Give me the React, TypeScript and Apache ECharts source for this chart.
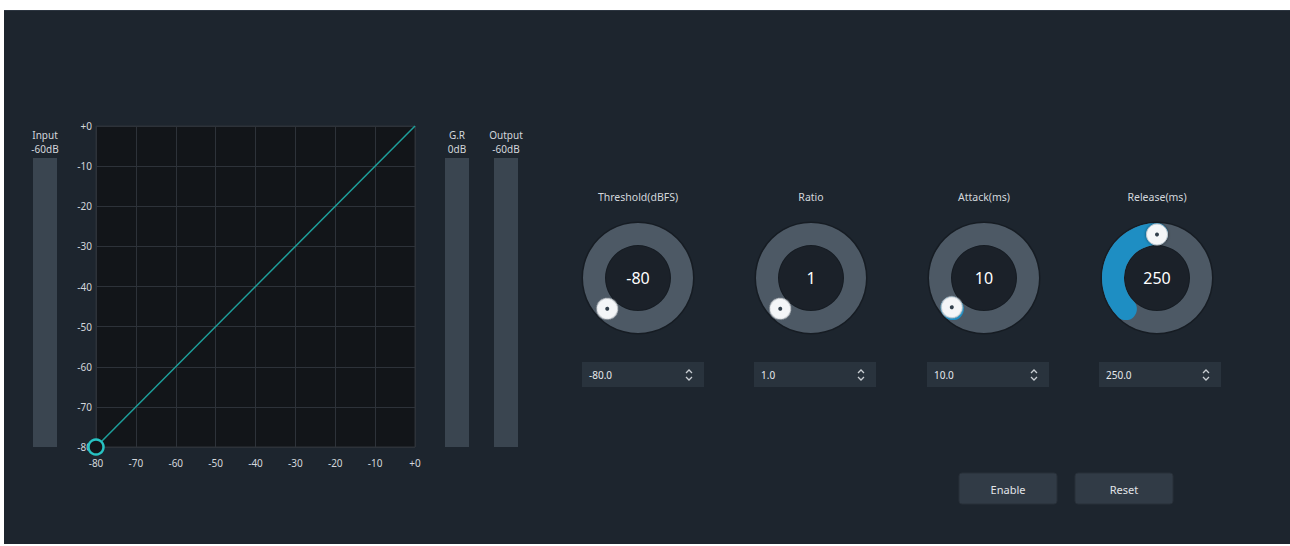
import React, { useEffect, useRef } from 'react';
import * as echarts from 'echarts';

// ---- data ----
const axisMin = -80;
const axisMax = 0;
const axisStep = 10;
const curveIn = [-80, 0];
const curveOut = [-80, 0];
const thresholdPoint = [-80, -80];

const meterNames = ['Input', 'G.R', 'Output'];
const meterReadouts = ['-60dB', '0dB', '-60dB'];

const knobNames = ['Threshold(dBFS)', 'Ratio', 'Attack(ms)', 'Release(ms)'];
const knobValues = [-80, 1, 10, 250];
const knobMin = [-80, 1, 0, 0];
const knobMax = [0, 20, 1000, 500];

const buttonLabels = ['Enable', 'Reset'];

// ---- layout / style ----
const FONT = '"Noto Sans", sans-serif';
const BG = '#1d252e';
const TXT = '#d3d7dc';
const knobX = [638, 811, 984, 1157];
const knobY = 278;
const meterX = [33, 445, 494];
const boxX = [582, 754, 927, 1099];
const buttonX = [959, 1075];

const fmtTick = (v: number) => (v === 0 ? '+0' : String(v));

export default function App() {
  const ref = useRef<HTMLDivElement>(null);
  useEffect(() => {
    if (!ref.current) return;
    const chart = echarts.init(ref.current, undefined, { renderer: 'svg' });

    const graphics: any[] = [
      { type: 'rect', z: -20, shape: { x: 4, y: 10, width: 1286, height: 534 }, style: { fill: BG } },
      { type: 'line', z: -19, shape: { x1: 4, y1: 10.5, x2: 1290, y2: 10.5 }, style: { stroke: '#2c3540', lineWidth: 1 } },
    ];

    meterNames.forEach((n, i) => {
      const x = meterX[i];
      graphics.push({ type: 'rect', z: 1, shape: { x, y: 158, width: 24, height: 289 }, style: { fill: '#3a4550' } });
      graphics.push({ type: 'text', z: 1, x: x + 12, y: 135, style: { text: n, fill: TXT, font: `10px ${FONT}`, align: 'center', verticalAlign: 'middle' } });
      graphics.push({ type: 'text', z: 1, x: x + 12, y: 149, style: { text: meterReadouts[i], fill: TXT, font: `10px ${FONT}`, align: 'center', verticalAlign: 'middle' } });
    });

    knobNames.forEach((n, i) => {
      const cx = knobX[i];
      graphics.push({ type: 'circle', z: 1, shape: { cx, cy: knobY, r: 56.5 }, style: { fill: '#161c23' } });
      graphics.push({ type: 'ring', z: 1, shape: { cx, cy: knobY, r: 55, r0: 33 }, style: { fill: '#4d5965' } });
      graphics.push({ type: 'circle', z: 1, shape: { cx, cy: knobY, r: 32 }, style: { fill: '#1b2129' } });
      const bx = boxX[i];
      graphics.push({ type: 'rect', z: 1, shape: { x: bx, y: 362, width: 122, height: 25 }, style: { fill: '#29333d' } });
      graphics.push({ type: 'text', z: 2, x: bx + 7, y: 375, style: { text: knobValues[i].toFixed(1), fill: '#e6e9ec', font: `10px ${FONT}`, verticalAlign: 'middle' } });
      graphics.push({ type: 'polyline', z: 2, shape: { points: [[bx + 104, 373], [bx + 107, 370], [bx + 110, 373]] }, style: { stroke: '#c9ced3', lineWidth: 1.3, fill: 'none' } });
      graphics.push({ type: 'polyline', z: 2, shape: { points: [[bx + 104, 377], [bx + 107, 380], [bx + 110, 377]] }, style: { stroke: '#c9ced3', lineWidth: 1.3, fill: 'none' } });
    });

    buttonLabels.forEach((b, i) => {
      const x = buttonX[i];
      graphics.push({ type: 'rect', z: 1, shape: { x, y: 473, width: 98, height: 31, r: 3 }, style: { fill: '#313b46', stroke: '#283039', lineWidth: 1 } });
      graphics.push({ type: 'text', z: 2, x: x + 49, y: 489, style: { text: b, fill: '#e1e4e8', font: `11px ${FONT}`, align: 'center', verticalAlign: 'middle' } });
    });

    const knobSeries: any[] = [];
    knobNames.forEach((n, i) => {
      const common = {
        type: 'gauge',
        center: [knobX[i], knobY],
        radius: 55,
        startAngle: 225,
        endAngle: -45,
        min: knobMin[i],
        max: knobMax[i],
        splitNumber: 1,
        axisTick: { show: false },
        splitLine: { show: false },
        axisLabel: { show: false },
        anchor: { show: false },
      };
      // arc + labels
      knobSeries.push({
        ...common,
        z: 5,
        axisLine: { show: false, lineStyle: { width: 22 } },
        progress: { show: knobValues[i] > knobMin[i], width: 22, roundCap: true, itemStyle: { color: '#1e8ec3' } },
        pointer: { show: false },
        title: { offsetCenter: [0, -81], color: TXT, fontSize: 10.5, fontFamily: FONT },
        detail: { offsetCenter: [0, 0], color: '#ffffff', fontSize: 16, fontWeight: 'normal', fontFamily: FONT, formatter: (v: number) => String(v) },
        data: [{ value: knobValues[i], name: n }],
      });
      // white handle
      knobSeries.push({
        ...common,
        z: 6,
        axisLine: { show: false },
        progress: { show: false },
        pointer: {
          icon: 'circle', width: 21, length: 21, offsetCenter: [0, -33],
          itemStyle: { color: '#f4f6f8', borderColor: '#c4c9ce', borderWidth: 1, shadowBlur: 3, shadowColor: 'rgba(0,0,0,0.5)' },
        },
        title: { show: false },
        detail: { show: false },
        data: [{ value: knobValues[i], name: n + ' handle' }],
      });
      // handle centre dot
      knobSeries.push({
        ...common,
        z: 7,
        axisLine: { show: false },
        progress: { show: false },
        pointer: { icon: 'circle', width: 4, length: 4, offsetCenter: [0, -41.5], itemStyle: { color: '#33404c' } },
        title: { show: false },
        detail: { show: false },
        data: [{ value: knobValues[i], name: n + ' dot' }],
      });
    });

    const axisCommon = {
      type: 'value',
      min: axisMin,
      max: axisMax,
      interval: axisStep,
      axisLine: { show: false },
      axisTick: { show: false },
      splitLine: { show: true, lineStyle: { color: '#2d3239', width: 1 } },
    };

    chart.setOption({
      animation: false,
      backgroundColor: '#ffffff',
      grid: { left: 96, top: 126, width: 319, height: 321, show: true, backgroundColor: '#121519', borderColor: '#2d3239', borderWidth: 1, z: 0 },
      xAxis: { ...axisCommon, axisLabel: { color: TXT, fontSize: 10, fontFamily: FONT, margin: 11, formatter: fmtTick } },
      yAxis: { ...axisCommon, axisLabel: { color: TXT, fontSize: 10, fontFamily: FONT, margin: 4, formatter: fmtTick } },
      graphic: graphics,
      series: [
        {
          type: 'line',
          data: curveIn.map((x, i) => [x, curveOut[i]]),
          showSymbol: false,
          lineStyle: { color: '#1e9f9b', width: 1.5 },
          z: 3,
        },
        {
          type: 'scatter',
          data: [thresholdPoint],
          symbolSize: 15,
          itemStyle: { color: '#121519', borderColor: '#27c2c2', borderWidth: 2.5, opacity: 1 },
          z: 4,
        },
        ...knobSeries,
      ],
    });
    return () => chart.dispose();
  }, []);
  return <div ref={ref} style={{ position: 'fixed', left: 0, top: 0, width: 1290, height: 546 }} />;
}
